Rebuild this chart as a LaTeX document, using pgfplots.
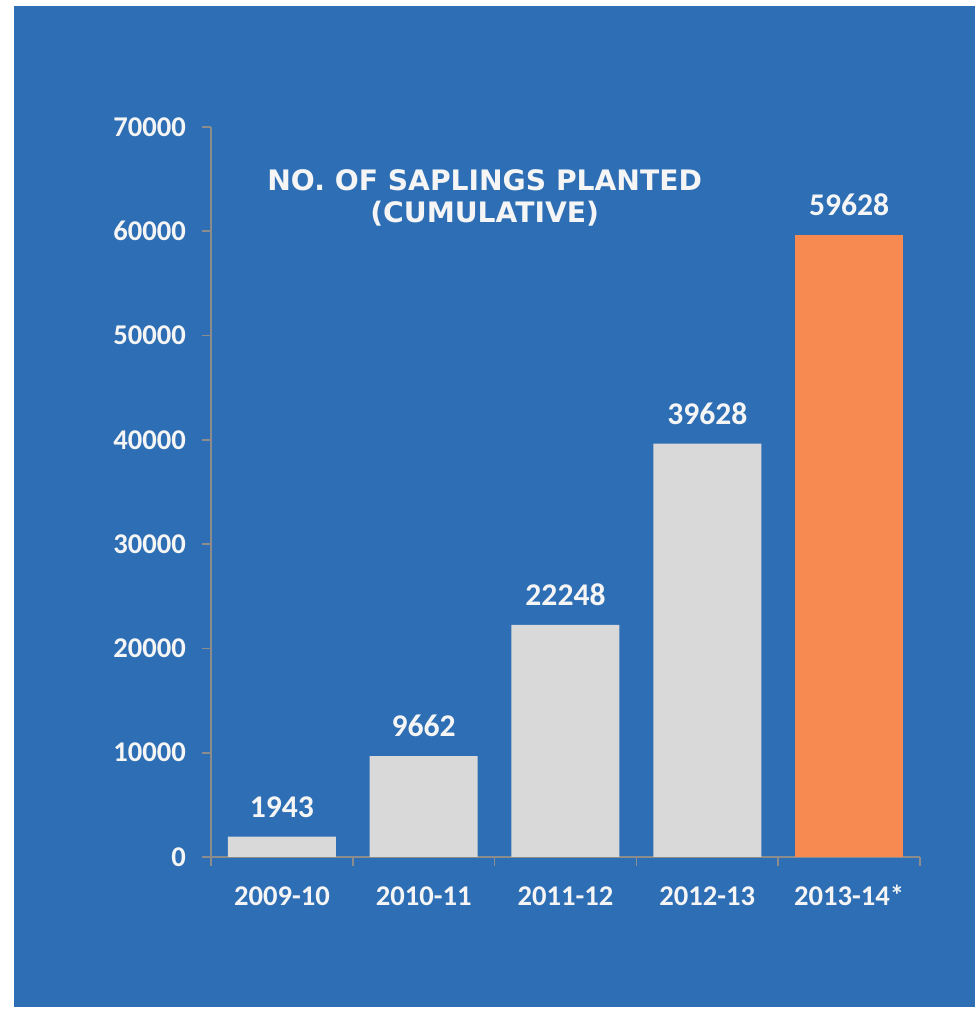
\documentclass[border=0pt]{standalone}
\usepackage{pgfplots}
\pgfplotsset{compat=1.18}
\usepackage{fontspec}
\setmainfont{Carlito}
\newfontfamily\titlefont{DejaVu Sans}
\definecolor{bgblue}{HTML}{2D6EB4}
\definecolor{bargray}{HTML}{D9D9D9}
\definecolor{barorange}{HTML}{F68A50}
\definecolor{axgray}{HTML}{8C8C8C}
\definecolor{txt}{HTML}{F5F5F5}
\begin{document}
\begin{tikzpicture}
\useasboundingbox (0,0) rectangle (489.5pt,504.5pt);
\fill[white] (0,0) rectangle (489.5pt,504.5pt);
\fill[bgblue] (7pt,1pt) rectangle (487.5pt,501.5pt);
\begin{axis}[
  at={(105.5pt,76pt)}, anchor=south west,
  scale only axis, width=354.5pt, height=365pt,
  xmin=-0.5, xmax=4.5, ymin=0, ymax=70000,
  axis x line*=bottom, axis y line*=left,
  axis line style={axgray, line width=0.8pt},
  every tick/.style={axgray, line width=0.8pt},
  xtick={0,1,2,3,4},
  xticklabels={2009-10,2010-11,2011-12,2012-13,2013-14*},
  major x tick style={draw=none},
  minor xtick={-0.5,0.5,1.5,2.5,3.5,4.5},
  minor tick length=4.5pt,
  major tick length=4.5pt,
  tick align=outside,
  ytick={0,10000,...,70000},
  scaled y ticks=false,
  /pgf/number format/1000 sep={},
  /pgf/number format/assume math mode=true,
  ticklabel style={font=\fontsize{14.3pt}{16pt}\selectfont\bfseries, text=txt},
  yticklabel style={xshift=-4.5pt},
  xticklabel style={yshift=-6pt, text height=10pt, text depth=0pt},
  ybar, bar width=54pt, bar shift=0pt,
  nodes near coords,
  point meta=explicit symbolic,
  every node near coord/.append style={font=\fontsize{15.8pt}{18pt}\selectfont\bfseries, text=txt, yshift=6pt},
  clip=false,
]
\addplot[fill=bargray, draw=none] table[meta=l] {
x y l
0 1943 1943
1 9662 9662
2 22248 22248
3 39628 39628
};
\addplot[fill=barorange, draw=none] table[meta=l] {
x y l
4 59628 59628
};
\node[font=\titlefont\fontsize{14.1pt}{16pt}\selectfont\bfseries, text=txt, align=center]
  at (rel axis cs:0.386,0.903) {NO. OF SAPLINGS PLANTED\\(CUMULATIVE)};
\end{axis}
\end{tikzpicture}
\end{document}
